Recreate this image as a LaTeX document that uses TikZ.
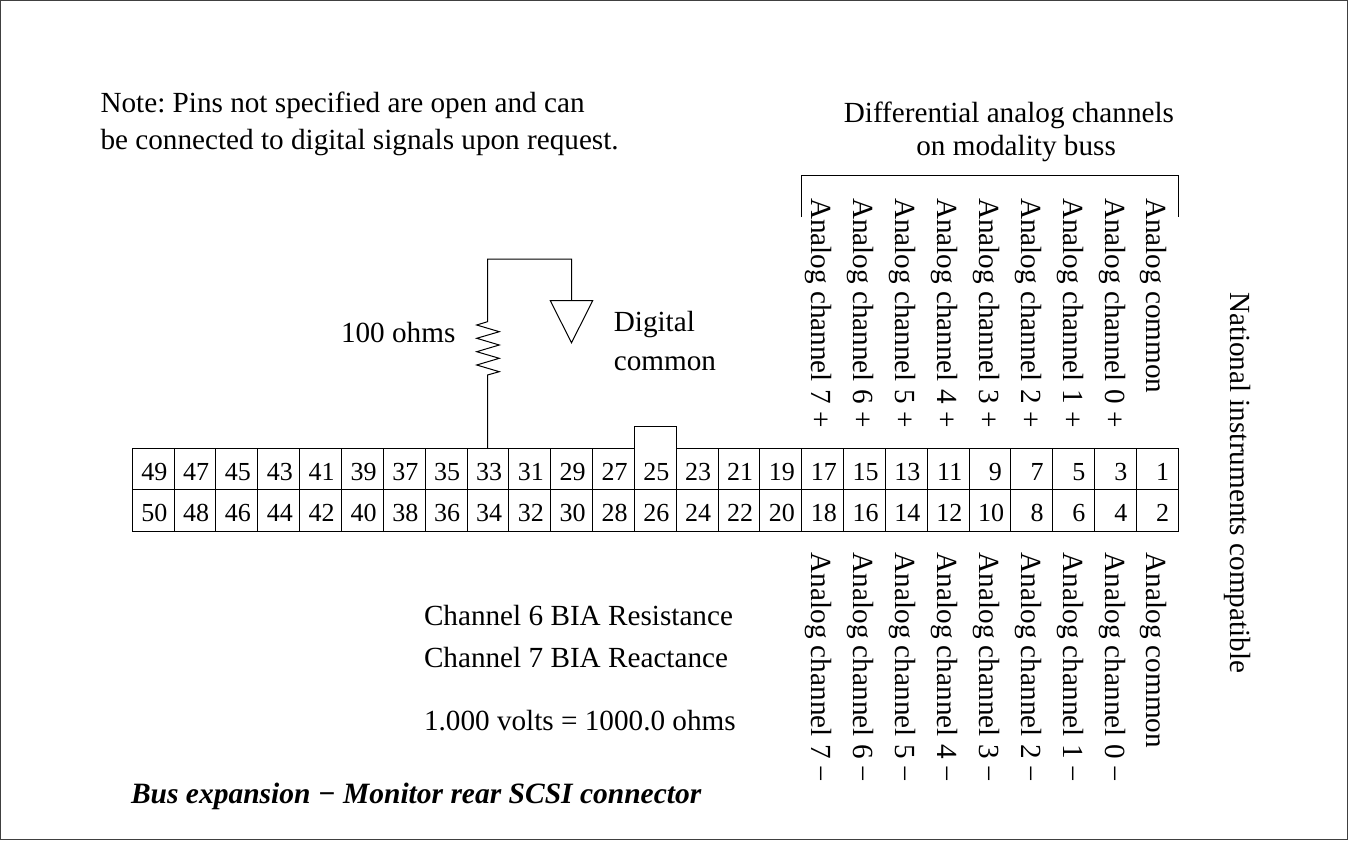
\documentclass[tikz,border=0pt]{standalone}
\usepackage{fontspec}
\setmainfont{Liberation Serif}
\tikzset{
  x=1pt,y=-1pt,
  line width=1pt,
  pin/.style={draw=black,rectangle,minimum width=41.84pt,minimum height=41.5pt,inner sep=0pt,outer sep=0pt},
  pinnum/.style={inner sep=0pt,outer sep=0pt,anchor=base east,font=\fontsize{26}{28}\selectfont},
  lbl/.style={inner sep=0pt,outer sep=0pt,anchor=base west,font=\frenchspacing\fontsize{29.2}{32}\selectfont},
  chan/.style={lbl,rotate=-90},
  wire/.style={draw=black,line width=1pt},
}
\begin{document}
\begin{tikzpicture}
\useasboundingbox (0,0) rectangle (1348,840);
\draw[draw=black!75] (0.5,0.5) rectangle (1347.5,839.5);
% notch behind pin 25
\node[draw=black,minimum width=41.84pt,minimum height=22pt,inner sep=0,outer sep=0,anchor=south] (notch) at (655,448) {};
% pins
\foreach \n [count=\i from 0] in {49,47,45,43,41,39,37,35,33,31,29,27,25,23,21,19,17,15,13,11}{
  \node[pin] (p\n) at ({132+20.92+41.84*\i},468.75) {};
  \node[pinnum] (t\n) at ({132+35.3+41.84*\i},480) {\n};
}
\foreach \n [count=\i from 20] in {9,7,5,3,1}{
  \node[pin] (p\n) at ({132+20.92+41.84*\i},468.75) {};
  \node[pinnum] (t\n) at ({132+33+41.84*\i},480) {\n};
}
\foreach \n [count=\i from 0] in {50,48,46,44,42,40,38,36,34,32,30,28,26,24,22,20,18,16,14,12,10}{
  \node[pin] (p\n) at ({132+20.92+41.84*\i},510.25) {};
  \node[pinnum] (t\n) at ({132+35.3+41.84*\i},521.7) {\n};
}
\foreach \n [count=\i from 21] in {8,6,4,2}{
  \node[pin] (p\n) at ({132+20.92+41.84*\i},510.25) {};
  \node[pinnum] (t\n) at ({132+33+41.84*\i},521.7) {\n};
}
\fill[white] (635,445.5) rectangle (675.5,450);
% resistor and ground
\coordinate (rtop) at (487.5,321.7);
\coordinate (rbot) at (487.5,375);
\coordinate (gtop) at (571.5,300.7);
\coordinate (cor1) at (487.5,259);
\coordinate (cor2) at (571.5,259);
\draw[wire] (p33.north) -- (rbot) -- (499.3,371.7) -- (476.7,365) -- (499.3,358.3) -- (476.7,351.7) -- (499.3,345) -- (476.7,338.3) -- (499.3,331.7) -- (476.7,325) -- (rtop) -- (cor1) -- (cor2) -- (gtop);
\draw[wire] (550.3,300.7) -- (592.7,300.7) -- (571.5,342.7) -- cycle;
% bracket
\coordinate (b1) at (801.7,217);
\coordinate (b2) at (801.7,175.7);
\coordinate (b3) at (1178.7,175.7);
\coordinate (b4) at (1178.7,217);
\draw[wire] (b1) -- (b2) -- (b3) -- (b4);
% text
\node[lbl] (note1) at (100.5,112.3) {Note: Pins not specified are open and can};
\node[lbl] (note2) at (100.5,149.3) {be connected to digital signals upon request.};
\node[lbl] (diff1) at (843.8,122.7) {Differential analog channels};
\node[lbl] (diff2) at (916.3,155) {on modality buss};
\node[lbl] (ohms) at (341,342.3) {100 ohms};
\node[lbl] (dig1) at (613.8,331.7) {Digital};
\node[lbl] (dig2) at (613.8,370) {common};
\node[chan] (nic) at (1230,292) {National instruments compatible};
\foreach \x/\t/\k in {811/Analog channel 7 +/a,853/Analog channel 6 +/b,895/Analog channel 5 +/c,937/Analog channel 4 +/d,979/Analog channel 3 +/e,1021/Analog channel 2 +/f,1063/Analog channel 1 +/g,1105/Analog channel 0 +/h,1146.7/Analog common/i}{
  \node[chan] (up\k) at (\x,198) {\t};
}
\foreach \x/\t/\k in {811/Analog channel 7 −/a,853/Analog channel 6 −/b,895/Analog channel 5 −/c,937/Analog channel 4 −/d,979/Analog channel 3 −/e,1021/Analog channel 2 −/f,1063/Analog channel 1 −/g,1105/Analog channel 0 −/h,1146.7/Analog common/i}{
  \node[chan] (dn\k) at (\x,552.7) {\t};
}
\node[lbl] (c6) at (424,625) {Channel 6 BIA Resistance};
\node[lbl] (c7) at (424,667) {Channel 7 BIA Reactance};
\node[lbl] (volts) at (424,730) {1.000 volts = 1000.0 ohms};
\node[lbl,font=\frenchspacing\fontsize{29.5}{32}\selectfont\bfseries\itshape] (title) at (131,803) {Bus expansion − Monitor rear SCSI connector};
\end{tikzpicture}
\end{document}
